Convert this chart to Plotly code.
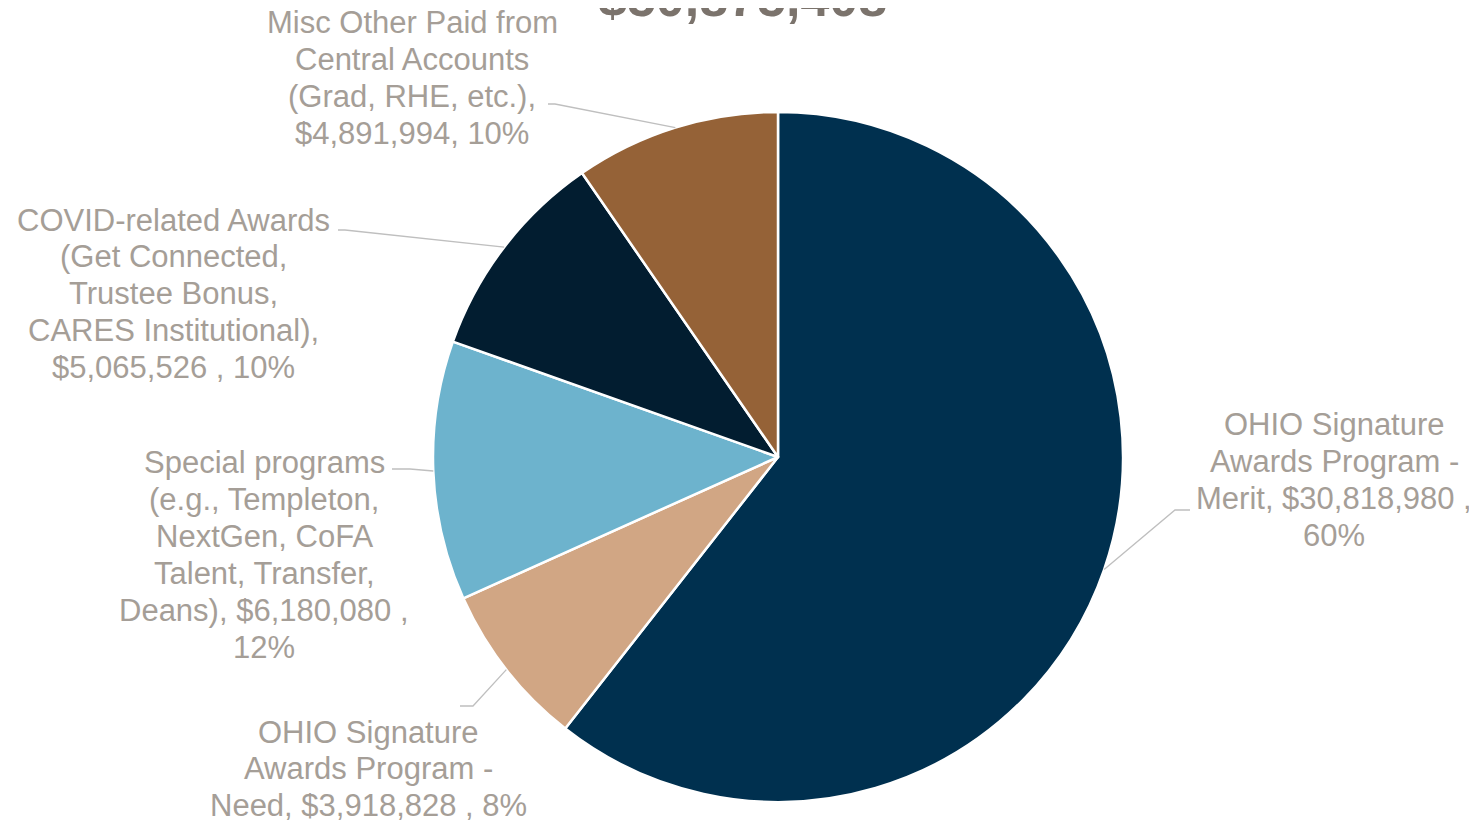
import math
import plotly.graph_objects as go

labels = [
    "OHIO Signature Awards Program - Merit",
    "OHIO Signature Awards Program - Need",
    "Special programs (e.g., Templeton, NextGen, CoFA Talent, Transfer, Deans)",
    "COVID-related Awards (Get Connected, Trustee Bonus, CARES Institutional)",
    "Misc Other Paid from Central Accounts (Grad, RHE, etc.)",
]
values = [30818980, 3918828, 6180080, 5065526, 4891994]
label_lines = [
    ["OHIO Signature", "Awards Program -", "Merit, $30,818,980 ,", "60%"],
    ["OHIO Signature", "Awards Program -", "Need, $3,918,828 , 8%"],
    ["Special programs", "(e.g., Templeton,", "NextGen, CoFA", "Talent, Transfer,", "Deans), $6,180,080 ,", "12%"],
    ["COVID-related Awards", "(Get Connected,", "Trustee Bonus,", "CARES Institutional),", "$5,065,526 , 10%"],
    ["Misc Other Paid from", "Central Accounts", "(Grad, RHE, etc.),", "$4,891,994, 10%"],
]
colors = ["#00304F", "#D1A684", "#6DB3CD", "#021D30", "#956237"]
title_text = "$50,875,408"

W, H = 1477, 823
PAGE_MARGIN = 8  # default html body margin
CX, CY, R = 778, 457, 345

# label placement (screen pixels): center x, first line y
label_pos = [(1334, 425), (368, 732), (264, 463), (173, 220), (412, 23)]
LINE_H = 36.8
# leader elbow points (screen pixels): (elbow x, elbow y, end x)
elbows = [(1175, 510, 1190), (473, 706, 460), (410, 469, 392), (345, 230, 338), (555, 104, 548)]

def px(x):
    return (x - PAGE_MARGIN) / W

def py(y):
    return 1 - (y - PAGE_MARGIN) / H

fig = go.Figure(go.Pie(
    labels=labels, values=values, sort=False, direction="clockwise", rotation=0,
    marker=dict(colors=colors, line=dict(color="white", width=2.5)),
    textinfo="none", hoverinfo="label+value+percent", showlegend=False,
    domain=dict(x=[px(CX - R), px(CX + R)], y=[py(CY + R), py(CY - R)]),
))

total = sum(values)
cum = 0
shapes = []
annotations = []
for i, v in enumerate(values):
    mid = (cum + v / 2) / total * 2 * math.pi
    cum += v
    ex = CX + R * math.sin(mid)
    ey = CY - R * math.cos(mid)
    bx, by, endx = elbows[i]
    shapes.append(dict(type="path", xref="paper", yref="paper",
                       path=f"M {px(ex)},{py(ey)} L {px(bx)},{py(by)} L {px(endx)},{py(by)}",
                       line=dict(color="#BFBFBF", width=1.3)))
    lx, ly = label_pos[i]
    for k, line in enumerate(label_lines[i]):
        annotations.append(dict(x=px(lx), y=py(ly + k * LINE_H), xref="paper", yref="paper",
                                text=line, showarrow=False, align="center",
                                xanchor="center", yanchor="middle",
                                font=dict(family="Liberation Sans, Arial", size=31, color="#A59E97")))

annotations.append(dict(x=px(742), y=py(-2), xref="paper", yref="paper", text=f"<b>{title_text}</b>",
                        showarrow=False, xanchor="center", yanchor="middle",
                        font=dict(family="Liberation Sans, Arial", size=52, color="#7B736C")))

fig.update_layout(width=W, height=H, margin=dict(l=0, r=0, t=0, b=0),
                  paper_bgcolor="white", plot_bgcolor="white",
                  shapes=shapes, annotations=annotations)
fig.write_html("out.html")
